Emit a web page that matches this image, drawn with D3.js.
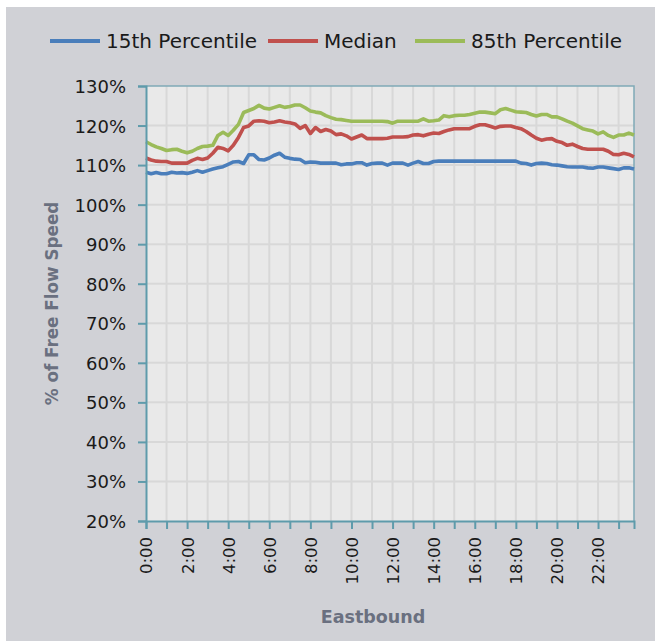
<!DOCTYPE html>
<html>
<head>
<meta charset="utf-8">
<script src="https://cdn.jsdelivr.net/npm/d3@7"></script>
<style>
  html, body { margin: 0; padding: 0; background: #ffffff; }
  svg { display: block; }
  text { font-family: "DejaVu Sans", "Noto Sans", sans-serif; }
</style>
</head>
<body>
<svg id="chart" width="655" height="641"></svg>
<script>
// 15-minute intervals over the day, 0:00 .. 23:45
const times = d3.range(96).map(i => `${Math.floor(i / 4)}:${String((i % 4) * 15).padStart(2, "0")}`);

// Percent of free flow speed, eastbound
const p15 = [
  108.2, 107.8, 108.1, 107.8, 107.8, 108.2, 108.0, 108.1, 107.9, 108.2, 108.6, 108.2,
  108.6, 109.0, 109.3, 109.6, 110.2, 110.8, 110.9, 110.4, 112.6, 112.6, 111.4, 111.3,
  111.8, 112.5, 113.0, 112.0, 111.7, 111.5, 111.4, 110.6, 110.8, 110.7, 110.5, 110.5,
  110.5, 110.5, 110.1, 110.3, 110.3, 110.6, 110.6, 110.0, 110.4, 110.5, 110.5, 110.0,
  110.5, 110.5, 110.5, 110.0, 110.5, 110.9, 110.4, 110.4, 110.9, 111.0, 111.0, 111.0,
  111.0, 111.0, 111.0, 111.0, 111.0, 111.0, 111.0, 111.0, 111.0, 111.0, 111.0, 111.0,
  111.0, 110.5, 110.4, 110.0, 110.4, 110.5, 110.4, 110.1, 110.0, 109.8, 109.6, 109.5,
  109.5, 109.5, 109.3, 109.2, 109.5, 109.5, 109.3, 109.1, 108.9, 109.3, 109.3, 109.0
];
const median = [
  111.8, 111.3, 111.0, 110.9, 110.9, 110.5, 110.5, 110.5, 110.5, 111.2, 111.7, 111.4,
  111.8, 113.0, 114.5, 114.2, 113.6, 115.0, 117.0, 119.5, 119.9, 121.1, 121.2, 121.1,
  120.7, 120.9, 121.2, 120.9, 120.7, 120.4, 119.3, 120.0, 118.0, 119.5, 118.5, 119.0,
  118.6, 117.7, 117.9, 117.4, 116.6, 117.1, 117.6, 116.7, 116.7, 116.7, 116.7, 116.8,
  117.1, 117.1, 117.1, 117.2, 117.6, 117.7, 117.4, 117.8, 118.1, 118.0, 118.5, 118.9,
  119.2, 119.2, 119.2, 119.2, 119.8, 120.2, 120.2, 119.8, 119.4, 119.8, 119.9, 119.9,
  119.5, 119.2, 118.5, 117.6, 116.8, 116.3, 116.6, 116.7, 116.0, 115.7, 115.0, 115.3,
  114.7, 114.2, 114.0, 114.0, 114.0, 114.0, 113.5, 112.7, 112.6, 113.0, 112.7, 112.1
];
const p85 = [
  115.9, 115.2, 114.6, 114.2, 113.7, 113.9, 114.0, 113.5, 113.1, 113.5, 114.2, 114.7,
  114.8, 115.0, 117.5, 118.3, 117.5, 118.8, 120.3, 123.3, 123.8, 124.3, 125.1, 124.4,
  124.2, 124.6, 125.0, 124.6, 124.8, 125.2, 125.2, 124.5, 123.7, 123.4, 123.2, 122.5,
  122.0, 121.6, 121.5, 121.3, 121.1, 121.1, 121.1, 121.1, 121.1, 121.1, 121.1, 121.0,
  120.6, 121.1, 121.1, 121.1, 121.1, 121.1, 121.7, 121.1, 121.2, 121.4, 122.5, 122.2,
  122.5, 122.6, 122.6, 122.8, 123.1, 123.4, 123.4, 123.2, 123.0, 124.0, 124.3, 123.9,
  123.5, 123.4, 123.3, 122.8, 122.4, 122.8, 122.8, 122.2, 122.2, 121.7, 121.1, 120.6,
  119.9, 119.2, 118.9, 118.6, 117.9, 118.4, 117.5, 117.0, 117.6, 117.6, 118.1, 117.6
];

const seriesNames = ["15th Percentile", "Median", "85th Percentile"];
const seriesColors = ["#4a7ebb", "#c0504d", "#9bbb59"];
const yTicks = [20, 30, 40, 50, 60, 70, 80, 90, 100, 110, 120, 130];

const series = [p15, median, p85];

const svg = d3.select("#chart");
const W = 655, H = 641;

// grey panel behind everything
svg.append("rect").attr("x", 6).attr("y", 7).attr("width", W - 6).attr("height", H - 7)
  .attr("fill", "#d0d1d6");

const plot = { left: 146, top: 86, right: 634, bottom: 521 };

const x = d3.scalePoint().domain(times).range([plot.left, plot.right]);
const y = d3.scaleLinear().domain([20, 130]).range([plot.bottom, plot.top]);

// plot background
svg.append("rect")
  .attr("x", plot.left).attr("y", plot.top)
  .attr("width", plot.right - plot.left).attr("height", plot.bottom - plot.top)
  .attr("fill", "#e9e9e9");

const hourTicks = times.filter((t, i) => i % 4 === 0);
const labelTicks = times.filter((t, i) => i % 8 === 0);

// gridlines
const grid = svg.append("g").attr("stroke", "#d8d8d8").attr("stroke-width", 2);
grid.selectAll("line.v").data(hourTicks.slice(1)).join("line")
  .attr("x1", d => x(d)).attr("x2", d => x(d))
  .attr("y1", plot.top).attr("y2", plot.bottom);
grid.selectAll("line.h").data(yTicks.slice(1, -1)).join("line")
  .attr("x1", plot.left).attr("x2", plot.right)
  .attr("y1", d => y(d)).attr("y2", d => y(d));

// plot border (top / right)
svg.append("path")
  .attr("d", `M${plot.left},${plot.top}H${plot.right}V${plot.bottom}`)
  .attr("fill", "none").attr("stroke", "#7fa9b6").attr("stroke-width", 1.5);

// series lines
const line = d3.line().x((d, i) => x(times[i])).y(d => y(d));
svg.append("g").selectAll("path").data(series).join("path")
  .attr("d", line)
  .attr("fill", "none")
  .attr("stroke", (d, i) => seriesColors[i])
  .attr("stroke-width", 3.6)
  .attr("stroke-linejoin", "round");

// axes
const axisColor = "#5e9bab";
const yAxis = svg.append("g").attr("transform", `translate(${plot.left},0)`)
  .call(d3.axisLeft(y).tickValues(yTicks).tickSize(8).tickPadding(12).tickFormat(d => d + "%"));
const xAxis = svg.append("g").attr("transform", `translate(0,${plot.bottom})`)
  .call(d3.axisBottom(x).tickValues(hourTicks).tickSize(8).tickFormat(d => labelTicks.includes(d) ? d : ""));

[yAxis, xAxis].forEach(g => {
  g.select(".domain").attr("stroke", axisColor).attr("stroke-width", 2);
  g.selectAll(".tick line").attr("stroke", axisColor).attr("stroke-width", 2);
});
yAxis.selectAll(".tick text")
  .attr("font-size", 18).attr("fill", "#1a1a1a")
  .attr("font-family", "DejaVu Sans").attr("dy", "0.36em");
xAxis.selectAll(".tick text")
  .attr("font-size", 16.5).attr("fill", "#1a1a1a")
  .attr("font-family", "DejaVu Sans")
  .attr("transform", "rotate(-90)")
  .attr("text-anchor", "end")
  .attr("x", -16).attr("y", 0).attr("dy", "0.36em");

// axis titles
svg.append("text")
  .attr("transform", `translate(58,${(plot.top + plot.bottom) / 2}) rotate(-90)`)
  .attr("text-anchor", "middle")
  .attr("font-size", 16.8).attr("font-weight", "bold").attr("fill", "#6a7080")
  .text("% of Free Flow Speed");
svg.append("text")
  .attr("x", 373).attr("y", 623)
  .attr("text-anchor", "middle")
  .attr("font-size", 17.5).attr("font-weight", "bold").attr("fill", "#6a7080")
  .text("Eastbound");

// legend
const legendX = [50, 268, 415];
const legend = svg.append("g").selectAll("g").data(seriesNames).join("g")
  .attr("transform", (d, i) => `translate(${legendX[i]},41)`);
legend.append("line")
  .attr("x1", 0).attr("x2", 50).attr("y1", 0).attr("y2", 0)
  .attr("stroke", (d, i) => seriesColors[i]).attr("stroke-width", 4);
legend.append("text")
  .attr("x", 56).attr("dy", "0.36em")
  .attr("font-size", 20).attr("fill", "#1a1a1a")
  .text(d => d);
</script>
</body>
</html>
